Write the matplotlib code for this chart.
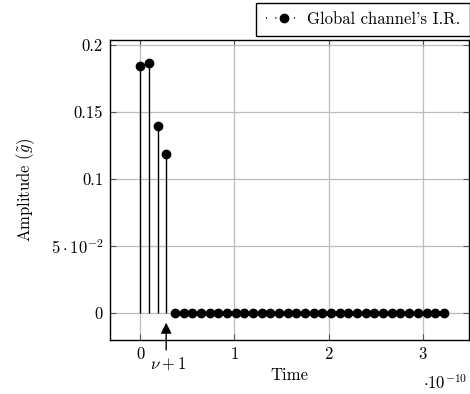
import matplotlib
matplotlib.use("Agg")
import matplotlib.pyplot as plt
import numpy as np

plt.rcParams['font.family'] = ['cmr10', 'DejaVu Serif']
plt.rcParams['mathtext.fontset'] = 'cm'
plt.rcParams['axes.formatter.use_mathtext'] = True

# Data (time in units of 1e-10 s)
n_samples = 36
dt = 0.0921
time = [i * dt for i in range(n_samples)]
amplitude = [0.1843, 0.1866, 0.1396, 0.1187] + [0.0] * (n_samples - 4)
xticks = [0, 1, 2, 3]
xticklabels = ['0', '1', '2', '3']
yticks = [0, 0.05, 0.1, 0.15, 0.2]
yticklabels = ['0', r'$5\cdot10^{-2}$', '0.1', '0.15', '0.2']
arrow_index = 3

FS = 12
fig = plt.figure(figsize=(4.70, 3.94), dpi=100)
ax = fig.add_axes([110/470, 1-340/394, 359/470, 300/394])

ml, sl, bl = ax.stem(time, amplitude, linefmt='k-', markerfmt='ko', basefmt=' ')
plt.setp(sl, linewidth=1.0)
plt.setp(ml, markersize=6.0)

ax.set_xlim(-0.32, 3.49)
ax.set_ylim(-0.020, 0.2037)
ax.set_xticks(xticks)
ax.set_xticklabels(xticklabels)
ax.set_yticks(yticks)
ax.set_yticklabels(yticklabels)
ax.grid(True, color='#bdbdbd', linewidth=0.9)
ax.set_axisbelow(True)
ax.tick_params(direction='in', length=4, top=True, right=True, labelsize=FS,
               color='#555555', pad=5)
for s in ax.spines.values():
    s.set_linewidth(1.0)

ax.set_xlabel('Time', fontsize=FS, labelpad=4)
ax.set_ylabel(r'Amplitude ($\tilde{g}$)', fontsize=FS, labelpad=10)
fig.text(445/470, 1-383/394, r'$\cdot10^{-10}$', fontsize=FS, ha='center', va='center')

# arrow for nu+1
xa = time[arrow_index]
ax.annotate('', xy=(xa, -0.005), xytext=(xa, -0.0295),
            arrowprops=dict(arrowstyle='-|>', color='k', lw=1.0, mutation_scale=16),
            annotation_clip=False)
ax.text(xa + 0.02, -0.0375, r'$\nu+1$', fontsize=FS, ha='center', va='center', clip_on=False)

leg = ax.legend(handles=[plt.Line2D([], [], color='k', linestyle=(0, (0.6, 5)), linewidth=1.2,
                                    marker='o', markersize=6)],
                labels=["Global channel's I.R."],
                loc='lower right', bbox_to_anchor=(1.002, 1.012), fontsize=FS,
                frameon=True, fancybox=False, edgecolor='k', framealpha=1,
                handlelength=2.2, borderpad=0.55, handletextpad=0.3, borderaxespad=0)
leg.get_frame().set_linewidth(1.0)

fig.savefig('out.png', dpi=100)
